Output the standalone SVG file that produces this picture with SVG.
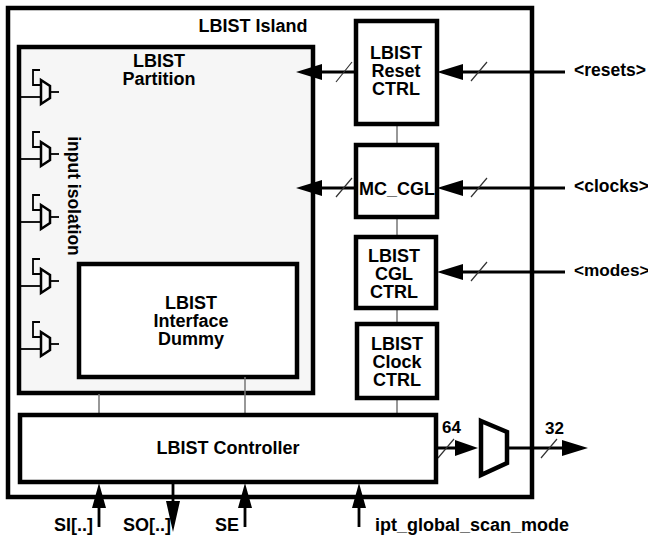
<svg xmlns="http://www.w3.org/2000/svg" width="648" height="537" viewBox="0 0 648 537">
<defs>
<g id="iso" fill="none" stroke="#000" stroke-width="1.800">
<path d="M0 0H22"/>
<path d="M21 -27H14V-12H22"/>
<path d="M22 -17L31 -11V1L22 7Z" stroke-width="2.500"/>
<path d="M31 -5H40"/>
</g>
</defs>
<style>
text{font-family:"Liberation Sans",Arial,sans-serif;font-weight:bold;fill:#000;font-size:18px}
.m{text-anchor:middle}
.box{fill:#fff;stroke:#000;stroke-width:4.500}
.w{fill:none;stroke:#000;stroke-width:2.800}
.g{fill:none;stroke:#777;stroke-width:1.500}
.s{fill:none;stroke:#333;stroke-width:1.200}
.n{font-size:17px}
</style>
<rect id="island" x="8" y="8" width="524" height="489" fill="#fff" stroke="#000" stroke-width="4.500"/>
<text class="m" x="253" y="32">LBIST Island</text>
<g id="partition">
<rect x="19" y="47" width="294" height="346" fill="#f6f6f6" stroke="#000" stroke-width="4.500"/>
<text class="m" x="159" y="67"><tspan x="159" y="67">LBIST</tspan><tspan x="159" y="85">Partition</tspan></text>
<text class="m" style="font-size:17.500px" transform="translate(68,196) rotate(90)">input isolation</text>
</g>
<g id="isolation">
<use href="#iso" x="19" y="97"/>
<use href="#iso" x="19" y="159"/>
<use href="#iso" x="19" y="222"/>
<use href="#iso" x="19" y="286"/>
<use href="#iso" x="19" y="349"/>
</g>
<g id="interface">
<rect class="box" x="79" y="264" width="218" height="113"/>
<text class="m"><tspan x="191" y="309">LBIST</tspan><tspan x="191" y="327">Interface</tspan><tspan x="191" y="345">Dummy</tspan></text>
</g>
<g id="connectors">
<path class="g" d="M397 124V144M397 218V237M397 308V324M397 398V414M99 394V414M245 377V414"/>
<path class="w" d="M355 72H310M565 72H450M355 188H310M565 188H450M565 272H450M436 448H460M507 448H570"/>
<path class="s" d="M336 82L352 62M471 81L487 62M336 197L352 178M471 197L487 178M471 281L487 262M438 458L454 439M541 458L557 439"/>
<path d="M296 72L322 64V80ZM296 188L322 180V196ZM437 72L463 64V80ZM437 188L463 180V196ZM437 272L463 264V280ZM478 448L455 440V456ZM588 448L562 440V456Z"/>
<path class="w" d="M99 527V500M173 484V505M245 527V500M359 527V500"/>
<path d="M99 483L106 508H92ZM173 532L166 501H180ZM245 483L252 508H238ZM359 483L366 508H352Z"/>
<path d="M481 421L507 432V463L481 475Z" fill="#fff" stroke="#000" stroke-width="4.500"/>
</g>
<g id="reset"><rect class="box" x="356" y="21" width="81" height="103"/>
<text class="m"><tspan x="396" y="59">LBIST</tspan><tspan x="396" y="77">Reset</tspan><tspan x="396" y="95">CTRL</tspan></text></g>
<g id="mccgl"><rect class="box" x="356" y="145" width="81" height="72"/>
<text class="m" x="397" y="195">MC_CGL</text></g>
<g id="cgl"><rect class="box" x="356" y="237" width="80" height="71"/>
<text class="m"><tspan x="394" y="262">LBIST</tspan><tspan x="394" y="280">CGL</tspan><tspan x="394" y="298">CTRL</tspan></text></g>
<g id="clock"><rect class="box" x="357" y="324" width="80" height="74"/>
<text class="m"><tspan x="397" y="350">LBIST</tspan><tspan x="397" y="368">Clock</tspan><tspan x="397" y="386">CTRL</tspan></text></g>
<g id="controller"><rect class="box" x="20" y="415" width="416" height="67"/>
<text class="m" x="228" y="454">LBIST Controller</text></g>
<text x="574" y="76" style="font-size:17.500px">&lt;resets&gt;</text>
<text x="574" y="192" style="font-size:17.500px">&lt;clocks&gt;</text>
<text x="574" y="276" style="font-size:17.200px">&lt;modes&gt;</text>
<text class="n" x="442" y="433">64</text>
<text class="n" x="545" y="434">32</text>
<text x="54" y="531">SI[..]</text>
<text x="123" y="531">SO[..]</text>
<text x="215" y="531">SE</text>
<text x="375" y="531">ipt_global_scan_mode</text>
</svg>
